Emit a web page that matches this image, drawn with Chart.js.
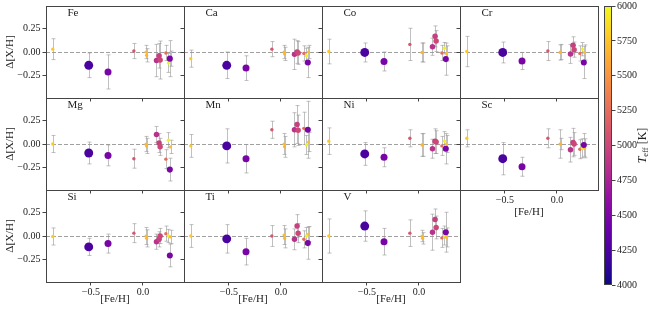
<!DOCTYPE html>
<html>
<head>
<meta charset="utf-8">
<script src="https://cdn.jsdelivr.net/npm/chart.js@4.4.1/dist/chart.umd.min.js"></script>
<style>
html, body { margin: 0; padding: 0; background: #fff; }
#fig { position: relative; width: 664px; height: 310px; overflow: hidden; background: #fff; }
#fig canvas { position: absolute; }
</style>
</head>
<body>
<div id="fig"></div>
<script>
// one entry per star, same order in every element array
const feh  = [-0.865, -0.52, -0.335, -0.087, 0.03, 0.035, 0.13, 0.155, 0.165, 0.22, 0.245, 0.265, 0.258];
const teff = [5780, 4250, 4480, 5100, 5700, 5680, 4850, 4950, 5000, 5250, 5970, 5720, 4480];
const logg = [4.4, 1.5, 2.5, 4.4, 4.5, 4.5, 3.3, 3.3, 3.3, 4.4, 4.4, 4.5, 3.0];

// Δ[X/H] and its error for each element
const fe    = [0.03, -0.14, -0.21, 0.01, 0.0, -0.035, -0.09, -0.04, -0.085, -0.01, -0.115, -0.07, -0.07];
const feErr = [0.11, 0.13, 0.18, 0.08, 0.07, 0.07, 0.17, 0.13, 0.2, 0.08, 0.1, 0.08, 0.19];
const ca    = [-0.07, -0.14, -0.17, 0.03, 0.0, -0.02, -0.025, 0.0, -0.01, -0.015, -0.04, 0.0, -0.11];
const caErr = [0.09, 0.14, 0.13, 0.08, 0.07, 0.07, 0.16, 0.12, 0.12, 0.08, 0.08, 0.07, 0.16];
const co    = [0.005, -0.005, -0.10, 0.08, -0.005, -0.005, 0.055, 0.165, 0.115, -0.01, 0.04, -0.015, -0.075];
const coErr = [0.13, 0.1, 0.1, 0.17, 0.1, 0.1, 0.09, 0.11, 0.11, 0.08, 0.06, 0.08, 0.17];
const cr    = [0.005, -0.005, -0.095, 0.01, -0.005, 0.0, -0.02, 0.07, 0.025, -0.015, 0.03, -0.005, -0.11];
const crErr = [0.16, 0.11, 0.09, 0.1, 0.08, 0.08, 0.1, 0.09, 0.08, 0.08, 0.07, 0.08, 0.17];
const mg    = [0.0, -0.095, -0.12, -0.155, 0.0, -0.02, 0.1, 0.01, -0.03, -0.16, 0.04, -0.03, -0.27];
const mgErr = [0.09, 0.115, 0.11, 0.1, 0.08, 0.08, 0.085, 0.1, 0.09, 0.1, 0.08, 0.07, 0.12];
const mn    = [-0.02, -0.02, -0.155, 0.15, 0.0, -0.03, 0.15, 0.205, 0.145, 0.165, -0.01, 0.02, 0.15];
const mnErr = [0.12, 0.18, 0.15, 0.09, 0.11, 0.11, 0.18, 0.2, 0.16, 0.17, 0.1, 0.1, 0.3];
const ni    = [0.03, -0.105, -0.14, 0.06, -0.01, -0.01, -0.05, 0.03, 0.02, -0.02, 0.03, 0.0, -0.05];
const niErr = [0.14, 0.12, 0.1, 0.09, 0.12, 0.12, 0.1, 0.13, 0.12, 0.1, 0.1, 0.09, 0.16];
const sc    = [0.06, -0.155, -0.24, 0.06, 0.0, 0.0, -0.06, 0.015, 0.0, -0.055, -0.045, -0.045, -0.01];
const scErr = [0.09, 0.17, 0.1, 0.1, 0.15, 0.06, 0.13, 0.15, 0.12, 0.1, 0.1, 0.1, 0.12];
const si    = [-0.005, -0.115, -0.08, 0.03, 0.0, -0.025, -0.06, -0.035, 0.0, 0.025, 0.0, -0.01, -0.205];
const siErr = [0.09, 0.09, 0.1, 0.1, 0.09, 0.09, 0.08, 0.08, 0.08, 0.08, 0.07, 0.07, 0.12];
const ti    = [0.0, -0.03, -0.165, 0.0, 0.01, -0.025, -0.035, 0.105, 0.03, -0.035, 0.0, 0.02, -0.075];
const tiErr = [0.12, 0.15, 0.14, 0.11, 0.1, 0.1, 0.11, 0.12, 0.1, 0.09, 0.09, 0.08, 0.17];
const v     = [0.0, 0.105, -0.06, 0.03, 0.0, -0.025, 0.04, 0.175, 0.09, -0.02, 0.005, -0.015, 0.04];
const vErr  = [0.18, 0.16, 0.14, 0.14, 0.06, 0.06, 0.19, 0.11, 0.12, 0.1, 0.1, 0.1, 0.21];

const xTicks = [-0.5, 0.0];
const yTicks = [-0.25, 0.0, 0.25];
const cbarTicks = [4000, 4250, 4500, 4750, 5000, 5250, 5500, 5750, 6000];

const panels = [
    ["Fe", fe, feErr], ["Ca", ca, caErr], ["Co", co, coErr], ["Cr", cr, crErr],
    ["Mg", mg, mgErr], ["Mn", mn, mnErr], ["Ni", ni, niErr], ["Sc", sc, scErr],
    ["Si", si, siErr], ["Ti", ti, tiErr], ["V", v, vErr],
];

const colLeft = [46, 184, 322, 460],
    rowTop = [6, 98, 190];
const serif = '"Liberation Serif", "Times New Roman", serif';
const fig = document.getElementById("fig");

// matplotlib plasma
const plasmaStops = ["#0d0887", "#41049d", "#6a00a8", "#8f0da4", "#b12a90", "#cc4778",
    "#e16462", "#f2844b", "#fca636", "#fcce25", "#f0f921"];
const hex = h => [1, 3, 5].map(k => parseInt(h.substr(k, 2), 16));
function plasma(t) {
    t = Math.min(1, Math.max(0, t));
    const f = t * 10, i = Math.min(9, Math.floor(f)), w = f - i;
    const a = hex(plasmaStops[i]), b = hex(plasmaStops[i + 1]);
    const c = a.map((va, k) => Math.round(va + (b[k] - va) * w));
    return `rgb(${c[0]},${c[1]},${c[2]})`;
}
const markerRadius = g => Math.max(1.5, 1.6 + (4.5 - g) * 0.95);
const fmt = d => val => val.toFixed(d).replace("-", "\u2212");

const panelDecor = {
    id: "panelDecor",
    beforeDatasetsDraw(chart) {
        const { ctx, chartArea: a } = chart;
        const { x, y } = chart.scales;
        ctx.save();
        ctx.beginPath();
        ctx.rect(a.left, a.top, a.width, a.height);
        ctx.clip();
        // zero line
        const y0 = Math.round(y.getPixelForValue(0)) + 0.5;
        ctx.strokeStyle = "#a0a0a0";
        ctx.lineWidth = 1;
        ctx.setLineDash([4, 2]);
        ctx.beginPath();
        ctx.moveTo(a.left, y0);
        ctx.lineTo(a.right, y0);
        ctx.stroke();
        ctx.setLineDash([]);
        // error bars
        const ds = chart.data.datasets[0];
        ctx.strokeStyle = "rgba(150,150,150,0.6)";
        ds.data.forEach((p, i) => {
            const e = ds.errors[i];
            const px = Math.round(x.getPixelForValue(p.x)) + 0.5;
            const yt = y.getPixelForValue(p.y + e), yb = y.getPixelForValue(p.y - e);
            ctx.beginPath();
            ctx.moveTo(px, yt); ctx.lineTo(px, yb);
            ctx.moveTo(px - 2, yt); ctx.lineTo(px + 2, yt);
            ctx.moveTo(px - 2, yb); ctx.lineTo(px + 2, yb);
            ctx.stroke();
        });
        ctx.restore();
    },
    afterDraw(chart, args, opts) {
        const { ctx, chartArea: a } = chart;
        ctx.save();
        ctx.strokeStyle = "#444";
        ctx.lineWidth = 1;
        ctx.strokeRect(a.left + 0.5, a.top + 0.5, a.width, a.height);
        ctx.font = "11px " + serif;
        ctx.fillStyle = "#222";
        ctx.textBaseline = "alphabetic";
        ctx.fillText(opts.label, a.left + 21.5, a.top + 10);
        ctx.restore();
    }
};

panels.forEach(([name, vals, errs], i) => {
    const row = Math.floor(i / 4), col = i % 4;
    const isLeft = col === 0, isBottom = i >= 7;
    const cv = document.createElement("canvas");
    cv.width = 192; cv.height = 132;
    cv.style.width = "192px"; cv.style.height = "132px";
    cv.style.left = (colLeft[col] - 46) + "px";
    cv.style.top = (rowTop[row] - 10) + "px";
    fig.appendChild(cv);

    new Chart(cv, {
        type: "scatter",
        data: {
            datasets: [{
                data: feh.map((f, k) => ({ x: f, y: vals[k] })),
                errors: errs,
                pointRadius: logg.map(markerRadius),
                pointHoverRadius: logg.map(markerRadius),
                pointBackgroundColor: teff.map(t => plasma((t - 4000) / 2000)),
                pointBorderWidth: 0,
            }]
        },
        options: {
            responsive: false,
            animation: false,
            events: [],
            layout: { padding: { top: 10, right: 8, left: 0, bottom: 0 } },
            plugins: {
                legend: { display: false },
                tooltip: { enabled: false },
                panelDecor: { label: name },
            },
            scales: {
                x: {
                    type: "linear",
                    min: -0.93,
                    max: 0.394,
                    afterBuildTicks: s => { s.ticks = xTicks.map(t => ({ value: t })); },
                    afterFit: s => { s.height = 30; },
                    ticks: { display: isBottom, font: { family: serif, size: 10 }, color: "#222", padding: 1, callback: fmt(1) },
                    grid: { drawOnChartArea: false, tickLength: 3.5, color: "#444" },
                    border: { display: false },
                    title: {
                        display: isBottom, text: "[Fe/H]", color: "#222",
                        font: { family: serif, size: 11 },
                        padding: { top: 0, bottom: row === 2 ? 6 : 1.5 }
                    }
                },
                y: {
                    type: "linear",
                    min: -0.485,
                    max: 0.485,
                    afterBuildTicks: s => { s.ticks = yTicks.map(t => ({ value: t })); },
                    afterFit: s => { s.width = 46; },
                    ticks: { display: isLeft, font: { family: serif, size: 10 }, color: "#222", padding: 2, callback: fmt(2) },
                    grid: { drawOnChartArea: false, tickLength: 3.5, color: "#444" },
                    border: { display: false },
                    title: {
                        display: isLeft, text: "\u0394[X/H]", color: "#222",
                        font: { family: serif, size: 11 },
                        padding: { top: 4, bottom: 0 }
                    }
                }
            }
        },
        plugins: [panelDecor]
    });
});

// colour bar
const cbarCv = document.createElement("canvas");
cbarCv.width = 74; cbarCv.height = 314;
cbarCv.style.width = "74px"; cbarCv.style.height = "314px";
cbarCv.style.left = "590px"; cbarCv.style.top = "-4px";
fig.appendChild(cbarCv);

const cbarLabel = {
    id: "cbarLabel",
    afterDraw(chart) {
        const { ctx, chartArea: a } = chart;
        ctx.save();
        ctx.strokeStyle = "#444";
        ctx.lineWidth = 1;
        ctx.strokeRect(a.left + 0.5, a.top + 0.5, a.width - 1, a.height - 1);
        ctx.translate(a.right + 31, (a.top + a.bottom) / 2);
        ctx.rotate(-Math.PI / 2);
        ctx.fillStyle = "#222";
        ctx.textBaseline = "middle";
        const fT = "italic 12px " + serif, fSub = "8.5px " + serif, fK = "12px " + serif;
        ctx.font = fT; const wT = ctx.measureText("T").width;
        ctx.font = fSub; const wS = ctx.measureText("eff").width;
        ctx.font = fK; const wK = ctx.measureText(" [K]").width;
        let x0 = -(wT + wS + wK) / 2;
        ctx.font = fT; ctx.fillText("T", x0, 0); x0 += wT;
        ctx.font = fSub; ctx.fillText("eff", x0, 3); x0 += wS;
        ctx.font = fK; ctx.fillText(" [K]", x0, 0);
        ctx.restore();
    }
};

new Chart(cbarCv, {
    type: "bar",
    data: {
        labels: [""],
        datasets: [{
            data: [[cbarTicks[0], cbarTicks[cbarTicks.length - 1]]],
            backgroundColor: c => {
                const a = c.chart.chartArea;
                if (!a) return plasma(0.5);
                const g = c.chart.ctx.createLinearGradient(0, a.bottom, 0, a.top);
                plasmaStops.forEach((s, k) => g.addColorStop(k / 10, s));
                return g;
            },
            borderWidth: 0,
            barPercentage: 1,
            categoryPercentage: 1,
        }]
    },
    options: {
        responsive: false,
        animation: false,
        events: [],
        layout: { padding: { top: 10, right: 0, left: 14, bottom: 25 } },
        plugins: { legend: { display: false }, tooltip: { enabled: false } },
        scales: {
            x: { display: false },
            y: {
                position: "right",
                min: 4000,
                max: 6000,
                afterBuildTicks: s => { s.ticks = cbarTicks.map(t => ({ value: t })); },
                afterFit: s => { s.width = 52; },
                ticks: { font: { family: serif, size: 10 }, color: "#222", padding: 1.5, callback: val => String(val) },
                grid: { drawOnChartArea: false, tickLength: 3.5, color: "#444" },
                border: { display: false }
            }
        }
    },
    plugins: [cbarLabel]
});
</script>
</body>
</html>
